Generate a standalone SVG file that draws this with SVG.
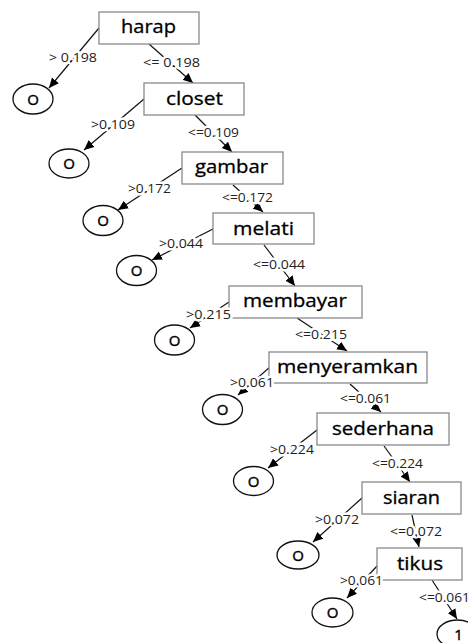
<svg xmlns="http://www.w3.org/2000/svg" width="468" height="643" viewBox="0 0 468 643">
<defs>
<marker id="arr" viewBox="0 0 10 10" refX="10" refY="5" markerWidth="10" markerHeight="10" markerUnits="userSpaceOnUse" orient="auto">
<path d="M0,0.5 L10,5 L0,9.5 z" fill="#000"/>
</marker>
<style>
.box{fill:#fff;stroke:#8a8a8a;stroke-width:1.3}
.leaf{fill:#fff;stroke:#111;stroke-width:1.3}
.bt{font-family:"Open Sans","Liberation Sans",sans-serif;font-size:18px;fill:#000;text-anchor:middle;stroke:#000;stroke-width:0.3}
.lt{font-family:"Open Sans","Liberation Sans",sans-serif;font-size:15px;fill:#000;text-anchor:middle;stroke:#000;stroke-width:0.4}
.el{stroke:#111;stroke-width:1.2;fill:none;marker-end:url(#arr)}
.lab{font-family:"Open Sans","Liberation Sans",sans-serif;font-size:12.5px;fill:#222;text-anchor:middle;stroke:#fff;stroke-width:5;paint-order:stroke;stroke-linejoin:round}
</style>
</defs>
<rect width="468" height="643" fill="#fff"/>
<g id="connectors">
<line class="el" x1="99" y1="28" x2="49" y2="88"/>
<line class="el" x1="149" y1="44" x2="193" y2="83"/>
<line class="el" x1="144" y1="99" x2="84" y2="150"/>
<line class="el" x1="195" y1="115" x2="232" y2="152"/>
<line class="el" x1="182" y1="168" x2="118" y2="210"/>
<line class="el" x1="233" y1="185" x2="263" y2="212"/>
<line class="el" x1="213" y1="229" x2="152" y2="260"/>
<line class="el" x1="264" y1="245" x2="295" y2="286"/>
<line class="el" x1="229" y1="302" x2="190" y2="328"/>
<line class="el" x1="297" y1="318" x2="347" y2="351"/>
<line class="el" x1="270" y1="367" x2="238" y2="395"/>
<line class="el" x1="350" y1="384" x2="381" y2="412"/>
<line class="el" x1="317" y1="430" x2="268" y2="468"/>
<line class="el" x1="384" y1="446" x2="410" y2="482"/>
<line class="el" x1="362" y1="498" x2="313" y2="542"/>
<line class="el" x1="412" y1="515" x2="419" y2="547"/>
<line class="el" x1="378" y1="565" x2="347" y2="598"/>
<line class="el" x1="432" y1="580" x2="457" y2="619"/>
</g>
<g id="n_harap"><rect class="box" x="99" y="12" width="100" height="32"/><text class="bt" x="148.5" y="33" textLength="55" lengthAdjust="spacingAndGlyphs">harap</text></g>
<g id="n_closet"><rect class="box" x="144" y="83" width="100" height="32"/><text class="bt" x="194.5" y="105" textLength="57" lengthAdjust="spacingAndGlyphs">closet</text></g>
<g id="n_gambar"><rect class="box" x="182" y="152" width="101" height="32"/><text class="bt" x="231.5" y="173" textLength="73" lengthAdjust="spacingAndGlyphs">gambar</text></g>
<g id="n_melati"><rect class="box" x="213" y="213" width="101" height="31"/><text class="bt" x="263.5" y="235" textLength="61" lengthAdjust="spacingAndGlyphs">melati</text></g>
<g id="n_membayar"><rect class="box" x="229" y="286" width="133" height="32"/><text class="bt" x="295" y="307" textLength="104" lengthAdjust="spacingAndGlyphs">membayar</text></g>
<g id="n_menyeramkan"><rect class="box" x="269" y="352" width="158" height="31"/><text class="bt" x="347.5" y="373" textLength="141" lengthAdjust="spacingAndGlyphs">menyeramkan</text></g>
<g id="n_sederhana"><rect class="box" x="317" y="413" width="132" height="32"/><text class="bt" x="383" y="435" textLength="102" lengthAdjust="spacingAndGlyphs">sederhana</text></g>
<g id="n_siaran"><rect class="box" x="362" y="482" width="99" height="32"/><text class="bt" x="411.5" y="504" textLength="57" lengthAdjust="spacingAndGlyphs">siaran</text></g>
<g id="n_tikus"><rect class="box" x="377" y="548" width="85" height="32"/><text class="bt" x="420" y="570" textLength="46" lengthAdjust="spacingAndGlyphs">tikus</text></g>
<g id="leaf1"><ellipse class="leaf" cx="33" cy="99" rx="20" ry="15"/><text class="lt" x="33" y="104.5">O</text></g>
<g id="leaf2"><ellipse class="leaf" cx="69" cy="163.5" rx="20" ry="14.5"/><text class="lt" x="69" y="169">O</text></g>
<g id="leaf3"><ellipse class="leaf" cx="103" cy="220.5" rx="20" ry="15"/><text class="lt" x="103" y="226">O</text></g>
<g id="leaf4"><ellipse class="leaf" cx="136.5" cy="270.5" rx="20" ry="15"/><text class="lt" x="136.5" y="276">O</text></g>
<g id="leaf5"><ellipse class="leaf" cx="174.5" cy="340" rx="20" ry="15"/><text class="lt" x="174.5" y="345.5">O</text></g>
<g id="leaf6"><ellipse class="leaf" cx="222.5" cy="409.5" rx="20" ry="15"/><text class="lt" x="222.5" y="415">O</text></g>
<g id="leaf7"><ellipse class="leaf" cx="253.5" cy="481" rx="20" ry="14.5"/><text class="lt" x="253.5" y="486.5">O</text></g>
<g id="leaf8"><ellipse class="leaf" cx="298" cy="555" rx="21" ry="14"/><text class="lt" x="298" y="560.5">O</text></g>
<g id="leaf9"><ellipse class="leaf" cx="332.5" cy="612.5" rx="20.5" ry="14.5"/><text class="lt" x="332.5" y="618">O</text></g>
<g id="leaf10"><ellipse class="leaf" cx="457.5" cy="634" rx="20.5" ry="14"/><text class="lt" x="458.5" y="639.5">1</text></g>
<g id="labels">
<text class="lab" x="73" y="62" textLength="48" lengthAdjust="spacingAndGlyphs">&gt; 0.198</text>
<text class="lab" x="171.5" y="67" textLength="57" lengthAdjust="spacingAndGlyphs">&lt;= 0.198</text>
<text class="lab" x="113" y="129" textLength="44" lengthAdjust="spacingAndGlyphs">&gt;0.109</text>
<text class="lab" x="213.5" y="137" textLength="51" lengthAdjust="spacingAndGlyphs">&lt;=0.109</text>
<text class="lab" x="149.5" y="193" textLength="43" lengthAdjust="spacingAndGlyphs">&gt;0.172</text>
<text class="lab" x="247.5" y="202" textLength="51" lengthAdjust="spacingAndGlyphs">&lt;=0.172</text>
<text class="lab" x="181" y="248" textLength="44" lengthAdjust="spacingAndGlyphs">&gt;0.044</text>
<text class="lab" x="279" y="269" textLength="52" lengthAdjust="spacingAndGlyphs">&lt;=0.044</text>
<text class="lab" x="208.5" y="319" textLength="45" lengthAdjust="spacingAndGlyphs">&gt;0.215</text>
<text class="lab" x="321" y="339" textLength="52" lengthAdjust="spacingAndGlyphs">&lt;=0.215</text>
<text class="lab" x="252" y="387" textLength="44" lengthAdjust="spacingAndGlyphs">&gt;0.061</text>
<text class="lab" x="365.5" y="403" textLength="51" lengthAdjust="spacingAndGlyphs">&lt;=0.061</text>
<text class="lab" x="292" y="454" textLength="44" lengthAdjust="spacingAndGlyphs">&gt;0.224</text>
<text class="lab" x="397.5" y="468" textLength="51" lengthAdjust="spacingAndGlyphs">&lt;=0.224</text>
<text class="lab" x="337" y="524" textLength="44" lengthAdjust="spacingAndGlyphs">&gt;0.072</text>
<text class="lab" x="416" y="536" textLength="52" lengthAdjust="spacingAndGlyphs">&lt;=0.072</text>
<text class="lab" x="361.5" y="585" textLength="43" lengthAdjust="spacingAndGlyphs">&gt;0.061</text>
<text class="lab" x="444.5" y="602" textLength="51" lengthAdjust="spacingAndGlyphs">&lt;=0.061</text>
</g>
</svg>
